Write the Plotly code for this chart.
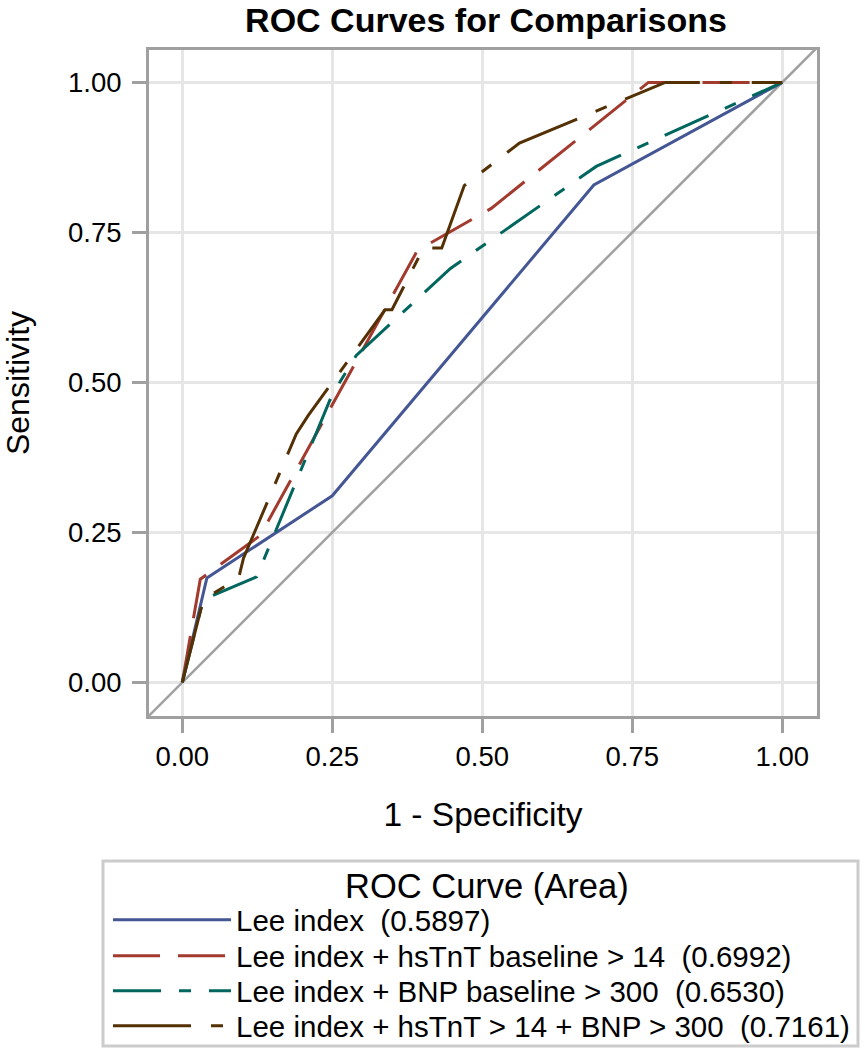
import plotly.graph_objects as go

# ---- data ----
lee_fpr = [0.0, 0.041, 0.25, 0.686, 1.0]
lee_tpr = [0.0, 0.174, 0.311, 0.829, 1.0]

tnt_fpr = [0.0, 0.030, 0.130, 0.392, 0.515, 0.777, 1.0]
tnt_tpr = [0.0, 0.172, 0.245, 0.720, 0.790, 1.000, 1.0]

bnp_fpr = [0.0, 0.035, 0.124, 0.250, 0.290, 0.447, 0.690, 1.0]
bnp_tpr = [0.0, 0.138, 0.176, 0.480, 0.545, 0.690, 0.860, 1.0]

both_fpr = [0.0, 0.035, 0.094, 0.102, 0.190, 0.210, 0.338, 0.3495, 0.402, 0.4325, 0.470, 0.562, 0.805, 1.0]
both_tpr = [0.0, 0.138, 0.174, 0.207, 0.414, 0.445, 0.621, 0.621, 0.724, 0.724, 0.828, 0.899, 1.000, 1.0]

names = [
    "Lee index  (0.5897)",
    "Lee index + hsTnT baseline > 14  (0.6992)",
    "Lee index + BNP baseline > 300  (0.6530)",
    "Lee index + hsTnT > 14 + BNP > 300  (0.7161)",
]
colors = ["#445694", "#A23A2E", "#01665E", "#543005"]
dashes = ["solid", "47px,18px", "48px,18px,12px,18px", "78px,20px,12px,20px"]

ticks = [0.0, 0.25, 0.5, 0.75, 1.0]
tick_text = ["0.00", "0.25", "0.50", "0.75", "1.00"]
diag = [-0.2, 1.2]

FONT = "Liberation Sans, Arial, sans-serif"
GRID = "#e6e6e6"
FRAME = "#a0a0a0"

# plot area in pixels (margins) -> helper for paper coordinates
L, R, T, B, W, H = 149, 48, 50, 334, 865, 1050
PW, PH = W - L - R, H - T - B


def px_x(px):
    return (px - L) / PW


def px_y(py):
    return (H - B - py) / PH


legend_keys = ["legend", "legend2", "legend3", "legend4"]
row_centers = [920, 956, 991, 1026]

fig = go.Figure()
fig.add_trace(go.Scatter(x=diag, y=diag, mode="lines", showlegend=False,
                         hoverinfo="skip", line=dict(color=FRAME, width=2.5)))
series = [(lee_fpr, lee_tpr), (tnt_fpr, tnt_tpr), (bnp_fpr, bnp_tpr), (both_fpr, both_tpr)]
for (xs, ys), nm, c, d, lk in zip(series, names, colors, dashes, legend_keys):
    fig.add_trace(go.Scatter(x=xs, y=ys, mode="lines", name=nm, legend=lk,
                             line=dict(color=c, width=3, dash=d)))

axis_common = dict(
    tickvals=ticks, ticktext=tick_text,
    showgrid=True, gridcolor=GRID, gridwidth=2.5,
    zeroline=False, automargin=False,
    showline=True, mirror=True, linecolor=FRAME, linewidth=3,
    ticks="outside", ticklen=14, tickwidth=3, tickcolor=FRAME,
    tickfont=dict(family=FONT, size=27.5, color="black"),
)

legends = {}
for lk, yc in zip(legend_keys, row_centers):
    legends[lk] = dict(
        x=px_x(108), y=px_y(yc), xanchor="left", yanchor="middle",
        borderwidth=0, bgcolor="rgba(0,0,0,0)",
        font=dict(family=FONT, size=29.5, color="black"),
        itemwidth=118,
    )

fig.update_layout(
    width=W, height=H,
    margin=dict(l=L, r=R, t=T, b=B, autoexpand=False),
    paper_bgcolor="white", plot_bgcolor="white",
    title=dict(text="<b>ROC Curves for Comparisons</b>",
               x=486 / W, xanchor="center",
               y=1 - 20 / H, yanchor="middle",
               font=dict(family=FONT, size=34, color="black")),
    xaxis=dict(range=[-0.0555, 1.058],
               ticklabelstandoff=0,
               title=dict(text="1 - Specificity", standoff=32,
                          font=dict(family=FONT, size=33.5, color="black")),
               **axis_common),
    yaxis=dict(range=[-0.056, 1.054],
               ticklabelstandoff=5,
               title=dict(text="Sensitivity", standoff=45,
                          font=dict(family=FONT, size=32, color="black")),
               **axis_common),
    shapes=[dict(type="rect", xref="paper", yref="paper",
                 x0=px_x(103), x1=px_x(858), y0=px_y(1046), y1=px_y(861),
                 line=dict(color="#cccccc", width=3), fillcolor="white", layer="below")],
    annotations=[dict(text="ROC Curve (Area)", xref="paper", yref="paper",
                      x=px_x(487), y=px_y(886), xanchor="center", yanchor="middle",
                      showarrow=False,
                      font=dict(family=FONT, size=34.5, color="black"))],
    **legends,
)

# remove the browser's default 8px page margin so the figure sits at (0, 0)
fig.write_html("out.html",
               config={"displayModeBar": False},
               post_script="document.body.style.margin='0px';"
                           "document.body.style.overflow='hidden';")
